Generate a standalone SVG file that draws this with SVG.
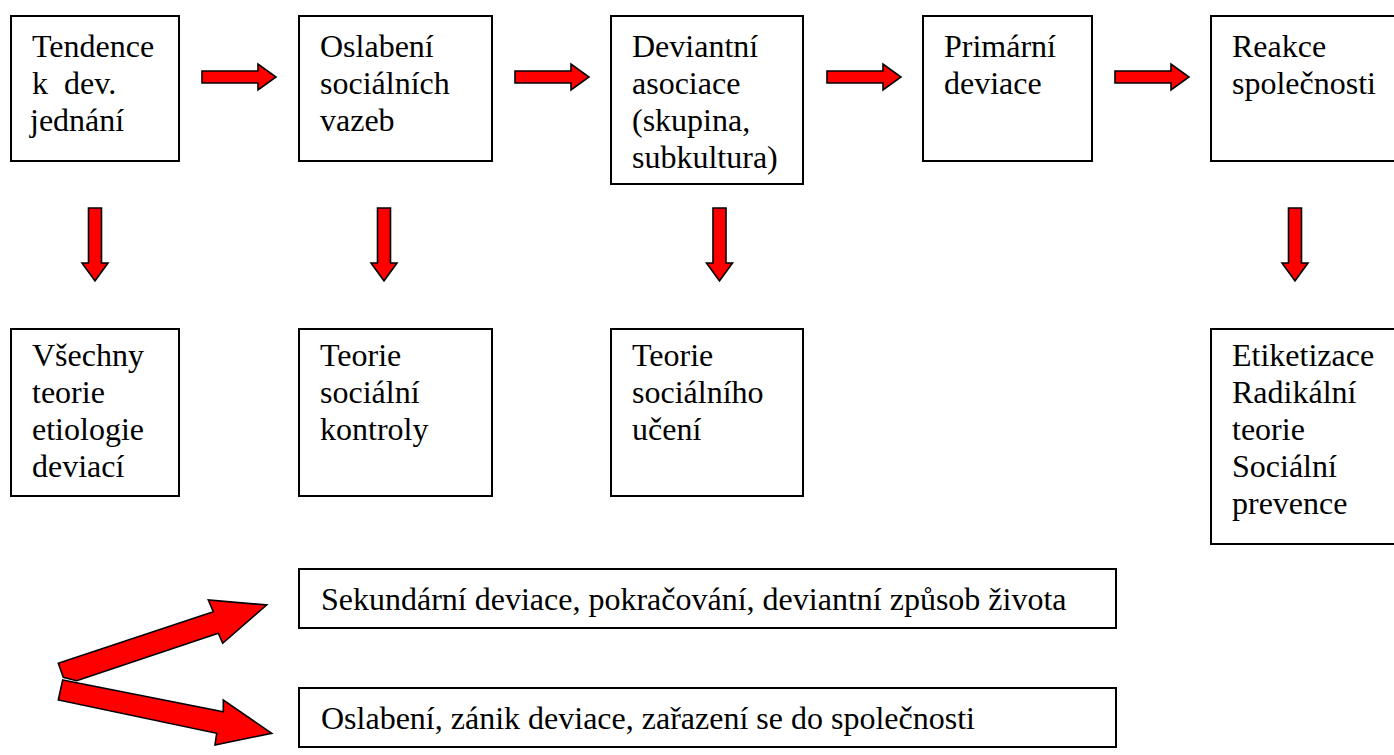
<svg xmlns="http://www.w3.org/2000/svg" xmlns:xlink="http://www.w3.org/1999/xlink" width="1394" height="755" viewBox="0 0 1394 755">
<style>
.box{fill:#fff;stroke:#000;stroke-width:2}
.t{font-family:'Liberation Serif','DejaVu Serif',serif;font-size:32px;fill:#000}
.arr{fill:#ff0000;stroke:#000;stroke-width:1.6;stroke-linejoin:miter}
</style>
<defs>
<polygon id="ha" points="0,-6 56,-6 56,-13 74,0 56,13 56,6 0,6"/>
<polygon id="va" points="-6.5,0 6.5,0 6.5,55 13,55 0,73 -13,55 -6.5,55"/>
</defs>
<rect width="1394" height="755" fill="#fff"/>
<g id="n1"><rect class="box" x="11" y="16" width="168" height="145"/><text class="t" x="32" y="57">Tendence</text><text class="t" x="32" y="94" xml:space="preserve">k  dev.</text><text class="t" x="30" y="131">jednání</text></g>
<g id="n2"><rect class="box" x="299" y="16" width="193" height="145"/><text class="t" x="320" y="57">Oslabení</text><text class="t" x="320" y="94">sociálních</text><text class="t" x="320" y="131">vazeb</text></g>
<g id="n3"><rect class="box" x="611" y="16" width="192" height="168"/><text class="t" x="632" y="57">Deviantní</text><text class="t" x="632" y="94">asociace</text><text class="t" x="632" y="131">(skupina,</text><text class="t" x="632" y="168">subkultura)</text></g>
<g id="n4"><rect class="box" x="923" y="16" width="169" height="145"/><text class="t" x="944" y="57">Primární</text><text class="t" x="944" y="94">deviace</text></g>
<g id="n5"><rect class="box" x="1211" y="16" width="200" height="145"/><text class="t" x="1232" y="57">Reakce</text><text class="t" x="1232" y="94">společnosti</text></g>
<g id="n6"><rect class="box" x="11" y="329" width="168" height="167"/><text class="t" x="32" y="366">Všechny</text><text class="t" x="32" y="403">teorie</text><text class="t" x="32" y="440">etiologie</text><text class="t" x="32" y="477">deviací</text></g>
<g id="n7"><rect class="box" x="299" y="329" width="193" height="167"/><text class="t" x="320" y="366">Teorie</text><text class="t" x="320" y="403">sociální</text><text class="t" x="320" y="440">kontroly</text></g>
<g id="n8"><rect class="box" x="611" y="329" width="192" height="167"/><text class="t" x="632" y="366">Teorie</text><text class="t" x="632" y="403">sociálního</text><text class="t" x="632" y="440">učení</text></g>
<g id="n9"><rect class="box" x="1211" y="329" width="200" height="215"/><text class="t" x="1232" y="366">Etiketizace</text><text class="t" x="1232" y="403">Radikální</text><text class="t" x="1232" y="440">teorie</text><text class="t" x="1232" y="477">Sociální</text><text class="t" x="1232" y="514">prevence</text></g>
<g id="n10"><rect class="box" x="299" y="569" width="817" height="59"/><text class="t" x="321" y="610">Sekundární deviace, pokračování, deviantní způsob života</text></g>
<g id="n11"><rect class="box" x="299" y="688" width="817" height="59"/><text class="t" x="321" y="729">Oslabení, zánik deviace, zařazení se do společnosti</text></g>
<g id="connectors">
<use xlink:href="#ha" class="arr" x="202" y="77"/>
<use xlink:href="#ha" class="arr" x="515" y="77"/>
<use xlink:href="#ha" class="arr" x="827" y="77"/>
<use xlink:href="#ha" class="arr" x="1115" y="77"/>
<use xlink:href="#va" class="arr" x="95" y="208"/>
<use xlink:href="#va" class="arr" x="384" y="208"/>
<use xlink:href="#va" class="arr" x="719.5" y="208"/>
<use xlink:href="#va" class="arr" x="1295" y="208"/>
<polygon class="arr" points="58.3,663.3 213.3,611.7 208.3,600 266.7,605 222.7,643.3 218.3,633.3 76.7,680.7 63.3,677.3"/>
<polygon class="arr" points="62.7,680 223.3,711.7 223.3,700 271.7,733.3 215,745 216.7,733.3 58.3,700"/>
</g>
</svg>
